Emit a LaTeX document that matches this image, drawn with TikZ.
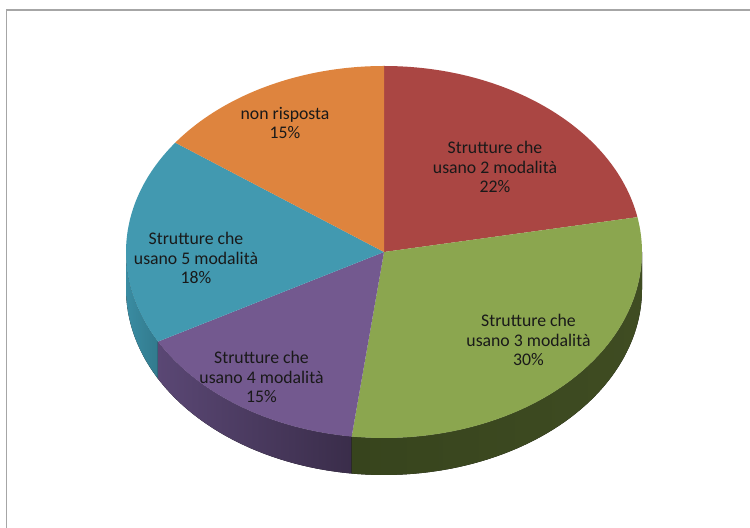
\documentclass[tikz,border=0pt]{standalone}
\usepackage{fontspec}
\setmainfont{Carlito}
\definecolor{cred}{HTML}{AA4643}
\definecolor{cgreen}{HTML}{8BA64F}
\definecolor{cpurple}{HTML}{73598F}
\definecolor{cblue}{HTML}{4299B0}
\definecolor{corange}{HTML}{DE843E}
\definecolor{sgreenL}{HTML}{3F4C22}
\definecolor{sgreenR}{HTML}{37441D}
\definecolor{spurpleL}{HTML}{5A4774}
\definecolor{spurpleR}{HTML}{3A2D4A}
\definecolor{sblueL}{HTML}{3A8CA2}
\definecolor{sblueR}{HTML}{327A8D}
\definecolor{frame}{HTML}{A6A6A6}
\tikzset{
  lbl/.style={align=center, text=black!90, font=\fontsize{13.3}{14.4}\selectfont, inner sep=0pt},
  framestyle/.style={draw=frame, line width=1pt},
  ell/.style={x radius=258, y radius=186}
}
\begin{document}
\begin{tikzpicture}[x=0.75pt,y=0.75pt]
\useasboundingbox (0,0) rectangle (750,528);
\fill[white] (0,0) rectangle (750,528);
\draw[framestyle] (6.7,0) -- (6.7,518) -- (750,518);
\begin{scope}[shift={(384,276)}]
  % side walls
  \fill[left color=sblueL, right color=sblueR] (-180:258 and 186) arc[start angle=-180, end angle=-151.2, ell] -- ++(0,-37) arc[start angle=-151.2, end angle=-180, ell] -- cycle;
  \fill[left color=spurpleL, right color=spurpleR] (-151.2:258 and 186) arc[start angle=-151.2, end angle=-97.2, ell] -- ++(0,-37) arc[start angle=-97.2, end angle=-151.2, ell] -- cycle;
  \fill[left color=sgreenR, right color=sgreenL] (-97.2:258 and 186) arc[start angle=-97.2, end angle=0, ell] -- ++(0,-37) arc[start angle=0, end angle=-97.2, ell] -- cycle;
  % top faces
  \fill[cred] (0,0) -- (10.8:258 and 186) arc[start angle=10.8, end angle=90, ell] -- cycle;
  \fill[cgreen] (0,0) -- (-97.2:258 and 186) arc[start angle=-97.2, end angle=10.8, ell] -- cycle;
  \fill[cpurple] (0,0) -- (-151.2:258 and 186) arc[start angle=-151.2, end angle=-97.2, ell] -- cycle;
  \fill[cblue] (0,0) -- (144:258 and 186) arc[start angle=144, end angle=208.8, ell] -- cycle;
  \fill[corange] (0,0) -- (90:258 and 186) arc[start angle=90, end angle=144, ell] -- cycle;
\end{scope}
\node[lbl] (l1) at (285,405) {non risposta\\15\%};
\node[lbl] (l2) at (495,361) {Strutture che\\usano 2 modalità\\22\%};
\node[lbl] (l3) at (528.5,188) {Strutture che\\usano 3 modalità\\30\%};
\node[lbl] (l4) at (261.5,151) {Strutture che\\usano 4 modalità\\15\%};
\node[lbl] (l5) at (196,270) {Strutture che\\usano 5 modalità\\18\%};
\end{tikzpicture}
\end{document}
